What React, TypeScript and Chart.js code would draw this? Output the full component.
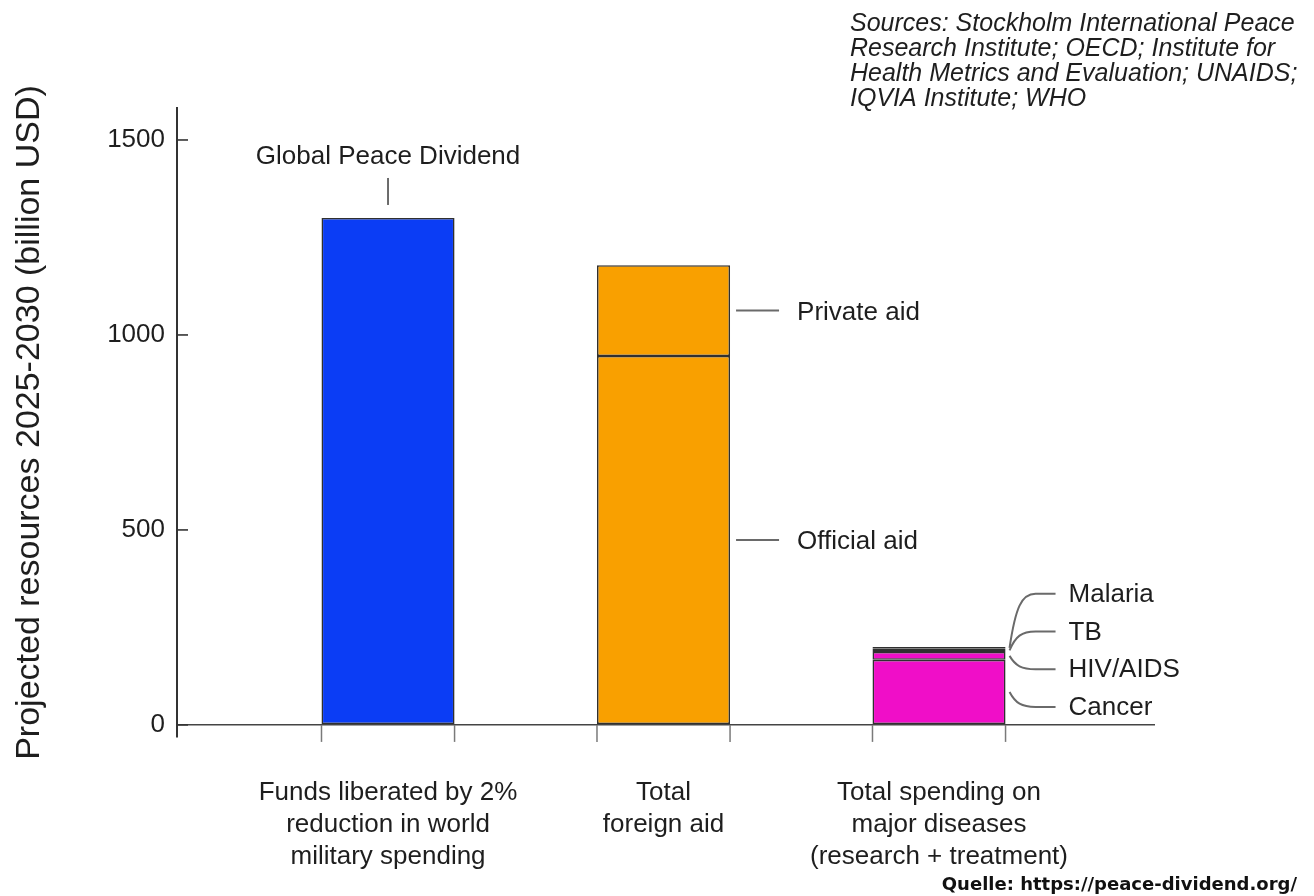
import React, { useEffect, useRef } from "react";
import { Chart, registerables } from "chart.js";

Chart.register(...registerables);

// ---------- data ----------
const CATEGORY_X = [1, 2, 3];
const CATEGORY_LABELS = [
  ["Funds liberated by 2%", "reduction in world", "military spending"],
  ["Total", "foreign aid"],
  ["Total spending on", "major diseases", "(research + treatment)"],
];
const Y_TICKS = [0, 500, 1000, 1500];

const SEGMENT_NAMES = ["Global Peace Dividend", "Official aid", "Private aid", "Cancer", "HIV/AIDS", "TB", "Malaria"];
const SEGMENT_CATEGORY = [1, 2, 2, 3, 3, 3, 3];
const SEGMENT_VALUES = [1300, 946, 233, 167, 20, 8, 5];
const SEGMENT_COLORS = ["#0b3df5", "#f9a000", "#f9a000", "#f00ec8", "#f00ec8", "#f00ec8", "#f00ec8"];

const Y_TITLE = "Projected resources 2025-2030 (billion USD)";
const SOURCE_LINES = [
  "Sources: Stockholm International Peace",
  "Research Institute; OECD; Institute for",
  "Health Metrics and Evaluation; UNAIDS;",
  "IQVIA Institute; WHO",
];
const CREDIT = "Quelle: https://peace-dividend.org/";

const FONT = "'Liberation Sans', Arial, Helvetica, sans-serif";
const TEXT = "#1e1e1e";
const LEADER = "#6a6a6a";

const annotations = {
  id: "annotations",
  afterDatasetsDraw(chart: any) {
    const ctx = chart.ctx as CanvasRenderingContext2D;
    const y = chart.scales.y;
    const area = chart.chartArea;
    const metas = chart.data.datasets.map((_: any, i: number) => chart.getDatasetMeta(i));
    const zeroPx = y.getPixelForValue(0);
    const line = (x1: number, y1: number, x2: number, y2: number) => {
      ctx.beginPath();
      ctx.moveTo(x1, y1);
      ctx.lineTo(x2, y2);
      ctx.stroke();
    };
    ctx.save();

    // ticks at bar edges below the zero line
    ctx.strokeStyle = "#7a7a7a";
    ctx.lineWidth = 1.5;
    CATEGORY_X.forEach((cx) => {
      const el = metas[SEGMENT_CATEGORY.indexOf(cx)].data[0];
      const half = el.width / 2;
      line(el.x - half, zeroPx, el.x - half, zeroPx + 17);
      line(el.x + half, zeroPx, el.x + half, zeroPx + 17);
    });

    // inward y ticks
    ctx.strokeStyle = "#333";
    ctx.lineWidth = 1.6;
    Y_TICKS.forEach((v) => {
      const py = y.getPixelForValue(v);
      line(area.left, py, area.left + 11, py);
    });

    ctx.fillStyle = TEXT;
    ctx.font = `26px ${FONT}`;
    ctx.strokeStyle = LEADER;
    ctx.lineWidth = 2;

    // Global Peace Dividend
    const g = metas[0].data[0];
    line(g.x, g.y - 13, g.x, g.y - 40);
    ctx.textAlign = "center";
    ctx.textBaseline = "middle";
    ctx.fillText(SEGMENT_NAMES[0], g.x, g.y - 61);

    // aid labels
    ctx.textAlign = "left";
    [1, 2].forEach((i) => {
      const el = metas[i].data[0];
      const right = el.x + el.width / 2;
      const mid = (el.y + el.base) / 2;
      line(right + 6, mid, right + 49, mid);
      ctx.fillText(SEGMENT_NAMES[i], right + 67, mid + 2);
    });

    // disease labels with curved leaders
    [3, 4, 5, 6].forEach((i, k) => {
      const el = metas[i].data[0];
      const right = el.x + el.width / 2;
      const mid = (el.y + el.base) / 2;
      const ly = zeroPx - 18 - k * 37.7;
      const x0 = right + 4;
      ctx.beginPath();
      ctx.moveTo(x0, mid);
      ctx.bezierCurveTo(x0 + 6, mid + (ly - mid) * 0.75, x0 + 12, ly, x0 + 26, ly);
      ctx.lineTo(right + 50, ly);
      ctx.stroke();
      ctx.fillText(SEGMENT_NAMES[i], right + 63, ly + 1);
    });

    // sources
    ctx.font = `italic 25px ${FONT}`;
    ctx.textBaseline = "alphabetic";
    ctx.textAlign = "left";
    SOURCE_LINES.forEach((s, i) => ctx.fillText(s, 850, 30.5 + i * 25));

    // credit
    ctx.font = `bold 18px 'DejaVu Sans', sans-serif`;
    ctx.textAlign = "right";
    ctx.fillStyle = "#111";
    ctx.fillText(CREDIT, 1297, 890);

    ctx.restore();
  },
};

export default function App() {
  const ref = useRef<HTMLCanvasElement>(null);
  useEffect(() => {
    if (!ref.current) return;
    Chart.defaults.font.family = FONT;
    const chart = new Chart(ref.current, {
      type: "bar",
      data: {
        datasets: SEGMENT_NAMES.map((name, i) => ({
          label: name,
          data: [{ x: SEGMENT_CATEGORY[i], y: SEGMENT_VALUES[i] }],
          backgroundColor: SEGMENT_COLORS[i],
          borderColor: "rgba(25,25,25,0.9)",
          borderWidth: 1.6,
          borderSkipped: false,
          categoryPercentage: 1,
          barPercentage: 0.483,
        })),
      },
      options: {
        responsive: false,
        animation: false,
        layout: { padding: { top: 108, right: 159, bottom: 0, left: 0 } },
        plugins: { legend: { display: false }, tooltip: { enabled: false } },
        scales: {
          x: {
            type: "linear",
            stacked: true,
            offset: false,
            min: 0.234,
            max: 3.784,
            grid: { display: false, drawTicks: false },
            border: { display: false },
            afterBuildTicks: (s: any) => {
              s.ticks = CATEGORY_X.map((v) => ({ value: v }));
            },
            afterFit: (s: any) => {
              s.height = 159;
            },
            ticks: {
              autoSkip: false,
              maxRotation: 0,
              padding: 40,
              color: TEXT,
              font: { size: 26, lineHeight: 1.23 },
              callback: (_v: any, i: number) => CATEGORY_LABELS[i],
            },
          },
          y: {
            type: "linear",
            stacked: true,
            min: -31,
            max: 1582,
            afterBuildTicks: (s: any) => {
              s.ticks = Y_TICKS.map((v) => ({ value: v }));
            },
            afterFit: (s: any) => {
              s.width = 177;
            },
            grid: {
              drawTicks: false,
              color: (c: any) => (c.tick && c.tick.value === 0 ? "#444" : "rgba(0,0,0,0)"),
              lineWidth: 1.6,
            },
            border: { display: true, color: "#333", width: 2 },
            ticks: {
              padding: 12,
              color: TEXT,
              font: { size: 26 },
              callback: (v: any) => String(v),
            },
            title: {
              display: true,
              text: Y_TITLE,
              color: TEXT,
              font: { size: 34, lineHeight: 1.2 },
              padding: { top: 9, bottom: 0 },
            },
          },
        },
      },
      plugins: [annotations],
    } as any);
    return () => chart.destroy();
  }, []);
  return (
    <div style={{ position: "fixed", left: 0, top: 0, width: 1314, height: 896, background: "#fff" }}>
      <canvas ref={ref} width={1314} height={896} style={{ display: "block" }} />
    </div>
  );
}
